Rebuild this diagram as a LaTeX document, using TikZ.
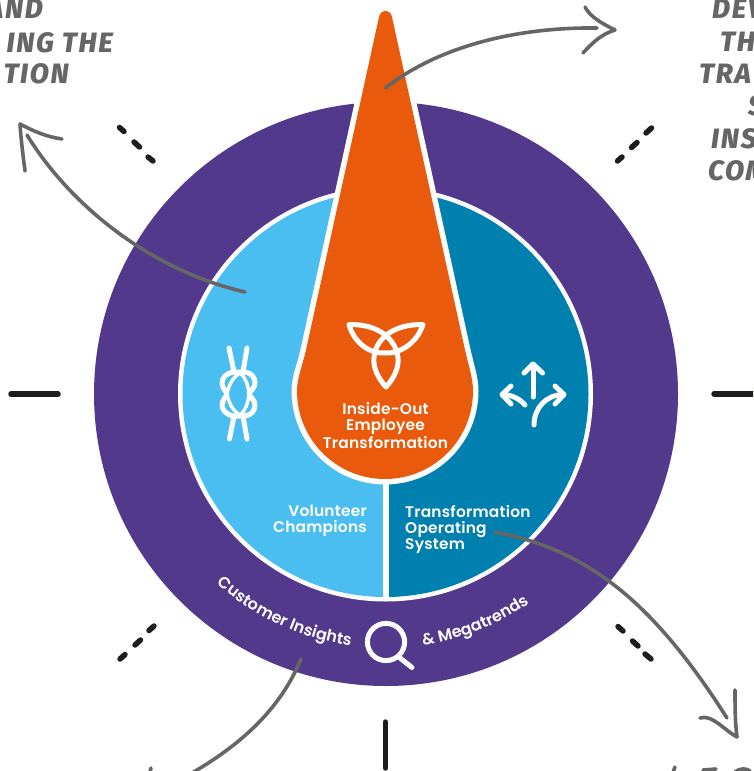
\documentclass[tikz,border=0pt]{standalone}
\usepackage{fontspec}
\usetikzlibrary{decorations.text}
\newfontfamily\lbl[LetterSpace=1.5]{Poppins SemiBold}
\newfontfamily\hand[LetterSpace=6]{Fira Sans ExtraBold Italic}
\newcommand\curvefont{\lbl\fontsize{16}{16}\selectfont}
\definecolor{purp}{HTML}{52398C}
\definecolor{lblue}{HTML}{4ABDF1}
\definecolor{dblue}{HTML}{0080AF}
\definecolor{orng}{HTML}{E95A0C}
\definecolor{sketch}{HTML}{666666}
\definecolor{tickc}{HTML}{1D1D1B}
\tikzset{
  ticks/.style={draw=tickc,line width=5.5pt,line cap=round},
  sketchline/.style={draw=sketch,line width=3.6pt,line cap=round,line join=round},
  icon/.style={draw=white,line width=5pt,line cap=round,line join=round},
  lab/.style={text=white,font=\lbl\fontsize{15.4}{16}\selectfont,inner sep=0pt},
  handtext/.style={text=sketch,font=\hand\fontsize{28}{28}\selectfont,inner sep=0pt},
}
\begin{document}
\begin{tikzpicture}[x=1pt,y=-1pt]
\useasboundingbox (0,0) rectangle (753,771);
\clip (0,0) rectangle (753,771);
% discs
\fill[purp] (386,394) circle[radius=292pt];
\fill[white] (385.5,394) circle[radius=207.5pt];
\fill[lblue] (385.5,191) arc[start angle=90,end angle=270,radius=203pt] -- cycle;
\fill[dblue] (385.5,191) arc[start angle=90,end angle=-90,radius=203pt] -- cycle;
\draw[white,line width=6pt] (385.7,191) -- (385.7,597);
% drop
\draw[white,line width=11pt,line join=round,fill=orng] (385.5,11) .. controls (389,11) and (391.3,13.5) .. (392,17) -- (465,350) .. controls (468.3,365) and (473,378) .. (473,391) arc[start angle=0,end angle=-180,radius=88pt] .. controls (297,378) and (302.7,365) .. (306,350) -- (379,17) .. controls (379.7,13.5) and (382,11) .. (385.5,11) -- cycle;
\fill[orng] (385.5,11) .. controls (389,11) and (391.3,13.5) .. (392,17) -- (465,350) .. controls (468.3,365) and (473,378) .. (473,391) arc[start angle=0,end angle=-180,radius=88pt] .. controls (297,378) and (302.7,365) .. (306,350) -- (379,17) .. controls (379.7,13.5) and (382,11) .. (385.5,11) -- cycle;
% ticks
\draw[ticks] (11,394) -- (58,394);
\draw[ticks] (714,394) -- (760,394);
\draw[ticks] (385.5,722) -- (385.5,768);
\draw[ticks] (119.5,127.5) -- (124,131.5);
\draw[ticks] (134,142) -- (139.5,147);
\draw[ticks] (148,157) -- (153,161);
\draw[ticks] (617.5,161) -- (622,157);
\draw[ticks] (631.5,147.5) -- (637,142.5);
\draw[ticks] (646,133) -- (651.5,128);
\draw[ticks] (120,659) -- (125,654.5);
\draw[ticks] (135,645) -- (140.5,640);
\draw[ticks] (149,630.5) -- (154,626);
\draw[ticks] (618,626.5) -- (623,631);
\draw[ticks] (632.5,641) -- (638,646);
\draw[ticks] (645,654) -- (651,659);
% trefoil
\draw[icon] (386,387) .. controls (378,378) and (373,368) .. (374,358)
  .. controls (375,340) and (392,324) .. (423,324.5)
  .. controls (417,343) and (400,354) .. (385,353)
  .. controls (370,354) and (354,343) .. (349,324.5)
  .. controls (380,324) and (396,340) .. (398,358)
  .. controls (399,368) and (394,378) .. (386,387) -- cycle;
% knot
\draw[icon] (229,348) -- (234,372) (247,348) -- (243,372);
\draw[icon] (229.5,439) -- (234,416) (247,439) -- (243,416);
\draw[icon] (234,372) -- (245,372) .. controls (252,373) and (255,378) .. (255,383)
  .. controls (255,388) and (250,391) .. (249,394)
  .. controls (250,397) and (255,400) .. (255,405)
  .. controls (255,410) and (252,415) .. (245,416) -- (234,416)
  .. controls (226,415) and (222,410) .. (222,405)
  .. controls (222,400) and (226,397) .. (227,394)
  .. controls (226,391) and (222,388) .. (222,383)
  .. controls (222,378) and (226,373) .. (234,372) -- cycle;
\draw[icon,line width=3.4pt] (240,373) .. controls (232,378) and (229,385) .. (227,394)
  .. controls (229,403) and (232,410) .. (240,415)
  .. controls (246,410) and (248,403) .. (249,394)
  .. controls (248,385) and (246,378) .. (240,373);
% three arrows
\draw[icon] (533,397) -- (533,365);
\draw[icon] (524,373) -- (533,364) -- (542.5,373);
\draw[icon] (525,405) .. controls (519,398) and (511,395) .. (503,394.5);
\draw[icon] (511,386) -- (502,394.5) -- (511,404);
\draw[icon] (534,425) .. controls (534,408) and (546,395) .. (563,394.5);
\draw[icon] (555,386) -- (564,394.5) -- (555,404);
% magnifier
\draw[icon] (386,642) circle[radius=18.6pt];
\draw[icon] (400,658) -- (412,667.5);
% labels
\node[lab,align=center] (inside) at (385.5,425.5) {Inside-Out\\Employee\\Transformation};
\node[lab,align=right,anchor=east] (vol) at (367,521) {Volunteer\\Champions};
\node[lab,align=left,anchor=west] (tos) at (405,529) {Transformation\\Operating\\System};
\path[decorate,decoration={text along path,text color=white,text align=center,text={|\curvefont|Customer Insights}}]
  (215.5,582.7) arc[start angle=228,end angle=262.5,radius=254pt];
\path[decorate,decoration={text along path,text color=white,text align=center,text={|\curvefont|{\&} Megatrends}}]
  (420.8,645.5) arc[start angle=278,end angle=305,radius=254pt];
% handwriting
\node[handtext,anchor=base east] (l1) at (43,18) {AND};
\node[handtext,anchor=base east] (l2) at (113,52) {ING THE};
\node[handtext,anchor=base east] (l3) at (69,83) {TION};
\node[handtext,anchor=base west] (r1) at (712,18) {DEV};
\node[handtext,anchor=base west] (r2) at (720,51) {TH};
\node[handtext,anchor=base west] (r3) at (699,83) {TRA};
\node[handtext,anchor=base west] (r4) at (748,115) {S};
\node[handtext,anchor=base west] (r5) at (711,148) {INS};
\node[handtext,anchor=base west] (r6) at (708,180) {COM};
% sketch arrows
\coordinate (a1s) at (385.5,88);
\coordinate (a1e) at (597,28);
\coordinate (a2s) at (245,292);
\coordinate (a2e) at (27,135);
\coordinate (a3s) at (495,532);
\coordinate (a3e) at (727,718);
\coordinate (a4s) at (301,659);
\coordinate (a4e) at (192,773);
\draw[sketchline] (a1s) .. controls (440,45) and (520,27) .. (a1e);
\draw[sketchline] (585,7) .. controls (590,17) and (603,24) .. (615,30) .. controls (602,34) and (593,42) .. (583,53);
\draw[sketchline] (a2s) .. controls (150,270) and (70,205) .. (a2e);
\draw[sketchline] (62,139) .. controls (47,137) and (33,131) .. (20,124) .. controls (21,140) and (23,155) .. (25,171);
\draw[sketchline] (a3s) .. controls (590,550) and (655,605) .. (a3e);
\draw[sketchline] (700,718) .. controls (712,714) and (724,730) .. (737,737) .. controls (735,722) and (735,705) .. (735,690);
\draw[sketchline] (a4s) .. controls (280,710) and (240,745) .. (a4e);
\draw[sketchline] (151,768) -- (149,775);
\draw[sketchline] (675,767) -- (672,775);
\draw[sketchline] (703,770) -- (716,769);
\draw[sketchline] (735,772) .. controls (740,768) and (746,768) .. (750,771);
\end{tikzpicture}
\end{document}
